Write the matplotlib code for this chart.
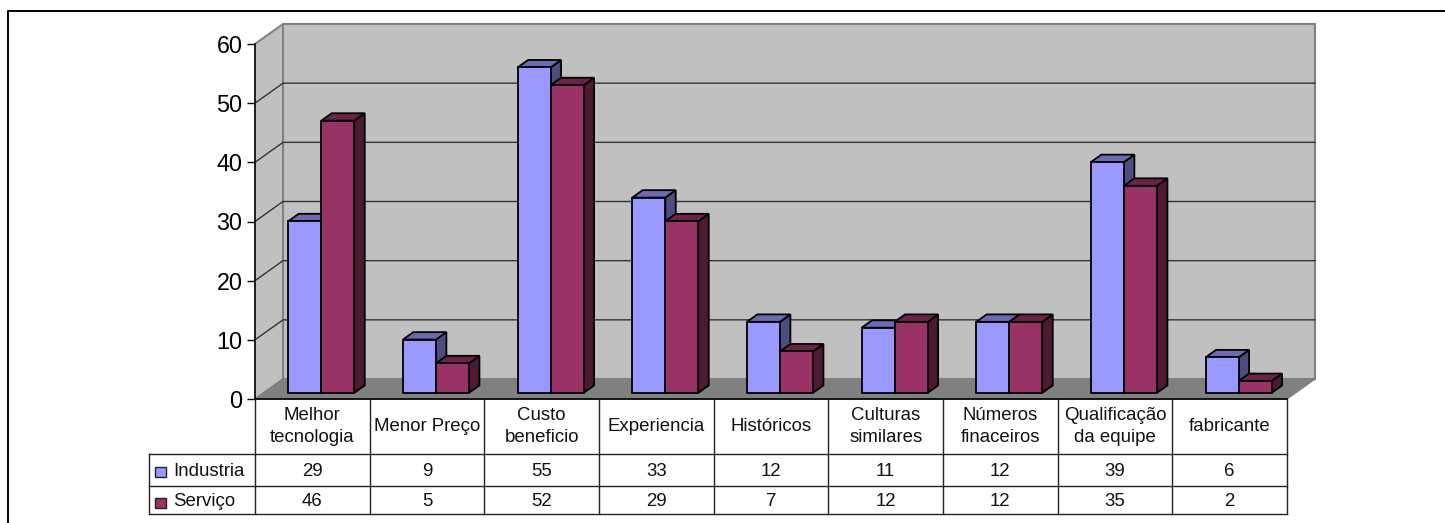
import matplotlib
matplotlib.use("Agg")
import matplotlib.pyplot as plt
from matplotlib.patches import Polygon, Rectangle

plt.rcParams['font.family'] = ['Liberation Sans', 'DejaVu Sans']

categorias = ["Melhor\ntecnologia", "Menor Preço", "Custo\nbeneficio", "Experiencia", "Históricos",
              "Culturas\nsimilares", "Números\nfinaceiros", "Qualificação\nda equipe", "fabricante"]
industria = [29, 9, 55, 33, 12, 11, 12, 39, 6]
servico = [46, 5, 52, 29, 7, 12, 12, 35, 2]
series_nomes = ["Industria", "Serviço"]
y_ticks = [0, 10, 20, 30, 40, 50, 60]

W, H = 1445, 523
fig = plt.figure(figsize=(W / 100, H / 100), dpi=100, facecolor="white")

# moldura externa (so esquerda e topo aparecem) e camada em pixels para a tabela
bg = fig.add_axes([0, 0, 1, 1])
bg.set_xlim(0, W)
bg.set_ylim(H, 0)
bg.axis("off")
bg.plot([7.5, 7.5, W], [H, 10.5, 10.5], color="black", lw=1.4, clip_on=False)

# eixo do plano frontal
L, R, Y0, Y60 = 255, 1287, 399, 44
ax = fig.add_axes([L / W, 1 - Y0 / H, (R - L) / W, (Y0 - Y60) / H])
ax.set_xlim(0, len(categorias))
ax.set_ylim(0, 60)
ax.patch.set_alpha(0)
for s in ["top", "right", "bottom"]:
    ax.spines[s].set_visible(False)
ax.spines["left"].set_linewidth(1.1)
ax.set_xticks([])
ax.set_yticks(y_ticks)
ax.tick_params(axis="y", length=6, width=1, labelsize=16.8, pad=3)

# profundidade em unidades dos dados
DX = 28 / ((R - L) / 9)
DY = 20 / ((Y0 - Y60) / 60)


def p(x, y, d=0.0):
    return (x + d * DX, y + d * DY)


def quad(pts, fc, ec, lw=1, z=1):
    ax.add_patch(Polygon(pts, closed=True, facecolor=fc, edgecolor=ec, lw=lw, zorder=z, clip_on=False))


n = len(categorias)
# paredes e chao
quad([p(0, 0), p(0, 0, 1), p(0, 60, 1), p(0, 60)], "#c0c0c0", "#808080", 1.2, 1)
quad([p(0, 0, 1), p(n, 0, 1), p(n, 60, 1), p(0, 60, 1)], "#c0c0c0", "#808080", 1.5, 1)
quad([p(0, 0), p(n, 0), p(n, 0, 1), p(0, 0, 1)], "#808080", "#808080", 1, 2)
for t in y_ticks[1:-1]:
    ax.plot(*zip(p(0, t), p(0, t, 1), p(n, t, 1)), color="#333333", lw=1, zorder=2, clip_on=False)
ax.plot(*zip(p(0, 60), p(0, 60, 1)), color="#808080", lw=1.2, zorder=2, clip_on=False)
ax.plot(*zip(p(0, 0), p(n, 0)), color="black", lw=1.2, zorder=3, clip_on=False)


def barra(x, w, v, cores, z):
    d0, d1 = 0.31, 0.68
    frente, topo, lado = cores
    quad([p(x + w, 0, d0), p(x + w, 0, d1), p(x + w, v, d1), p(x + w, v, d0)], lado, "black", 1.3, z)
    quad([p(x, v, d0), p(x + w, v, d0), p(x + w, v, d1), p(x, v, d1)], topo, "black", 1.3, z)
    quad([p(x, 0, d0), p(x + w, 0, d0), p(x + w, v, d0), p(x, v, d0)], frente, "black", 1.3, z)


cores_ind = ("#9999ff", "#6b6bb3", "#4d4d80")
cores_ser = ("#993366", "#6b2447", "#4d1a33")
gap, w = 0.215, 0.288
for i in range(n):
    barra(i + gap, w, industria[i], cores_ind, 4 + i * 2)
    barra(i + gap + w, w, servico[i], cores_ser, 5 + i * 2)

# tabela de dados
cw = (R - L) / n
T0, T1, T2, T3, TL = 399, 454, 486, 514, 149
lc = "#222222"
for y in (T1, T2, T3):
    bg.plot([TL, R], [y, y], color=lc, lw=1, zorder=1)
bg.plot([TL, TL], [T1, T3], color=lc, lw=1, zorder=1)
for i in range(n + 1):
    bg.plot([L + i * cw] * 2, [T0, T3], color=lc, lw=1, zorder=1)
fs = 13.4
for i, c in enumerate(categorias):
    xc = L + (i + 0.5) * cw
    bg.text(xc, (T0 + T1) / 2, c, ha="center", va="center", fontsize=fs, linespacing=1.42, color="#111111")
    bg.text(xc, (T1 + T2) / 2 + 1, str(industria[i]), ha="center", va="center", fontsize=fs, color="#111111")
    bg.text(xc, (T2 + T3) / 2 + 1, str(servico[i]), ha="center", va="center", fontsize=fs, color="#111111")
for nome, yc, cor in [(series_nomes[0], 472, "#9999ff"), (series_nomes[1], 502.5, "#993366")]:
    bg.add_patch(Rectangle((155, yc - 5), 11, 10, facecolor=cor, edgecolor="#222222", lw=1))
    bg.text(173, yc - 1, nome, ha="left", va="center", fontsize=fs, color="#111111")

fig.savefig("out.png", dpi=100)
